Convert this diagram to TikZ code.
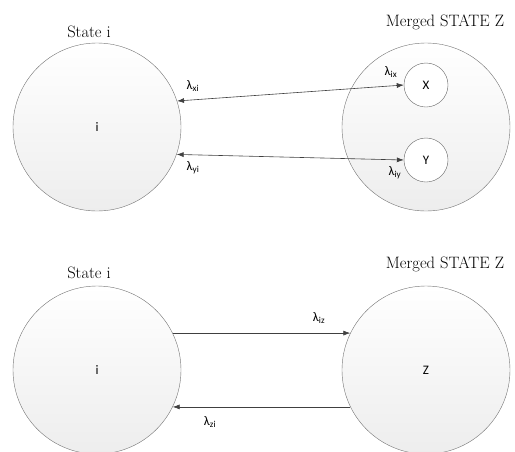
\documentclass[tikz,border=0pt]{standalone}
\usepackage{fontspec}
\newfontfamily\calib{Carlito}
\usepackage{tikz}
\usetikzlibrary{positioning, arrows, arrows.meta}

\tikzset{
  bigstate/.style={circle, draw=black!55, minimum size=168pt, inner sep=0pt,
    top color=white, bottom color=black!7, font=\calib\fontsize{13}{15}\selectfont},
  substate/.style={circle, draw=black!60, fill=white, minimum size=44pt, inner sep=0pt,
    font=\calib\fontsize{13}{15}\selectfont},
  title/.style={font=\fontsize{16.5}{19}\selectfont},
  rate/.style={font=\calib\fontsize{13}{15}\selectfont, inner sep=1pt},
  flow/.style={draw=black!75, line width=0.6pt},
  tip/.tip={Latex[length=7pt,width=5pt]}
}

\begin{document}
\begin{tikzpicture}[x=1pt,y=-1pt]
\useasboundingbox (0,0) rectangle (515,451);

% --- separate states ---
\node[bigstate] (stateI) at (97,127) {i};
\node[bigstate] (mergedZ) at (426,127) {};
\node[substate] (subX) at (426,85) {X};
\node[substate] (subY) at (426,160) {Y};
\node[title] (ttlI) at (89,32) {State i};
\node[title] (ttlZ) at (445,22) {Merged STATE Z};

\draw[flow,{Latex[length=7pt,width=5pt]}-{Latex[length=7pt,width=5pt]}] (stateI.18) -- (subX.west);
\draw[flow,{Latex[length=7pt,width=5pt]}-{Latex[length=7pt,width=5pt]}] (stateI.-19) -- (subY.west);

\node[rate] (lxi) at (193,86) {λ\textsubscript{xi}};
\node[rate] (lyi) at (193,168) {λ\textsubscript{yi}};
\node[rate] (lix) at (391,72) {λ\textsubscript{ix}};
\node[rate] (liy) at (395,173) {λ\textsubscript{iy}};

% --- merged state ---
\node[bigstate] (stateIb) at (97,370) {i};
\node[bigstate] (stateZ) at (426,370) {Z};
\node[title] (ttlIb) at (89,273) {State i};
\node[title] (ttlZb) at (445,264) {Merged STATE Z};

\draw[flow,-{Latex[length=7pt,width=5pt]}] (stateIb.26) -- (stateZ.154);
\draw[flow,{Latex[length=7pt,width=5pt]}-] (stateIb.-26) -- (stateZ.-154);

\node[rate] (liz) at (319,318) {λ\textsubscript{iz}};
\node[rate] (lzi) at (210,422) {λ\textsubscript{zi}};
\end{tikzpicture}
\end{document}
